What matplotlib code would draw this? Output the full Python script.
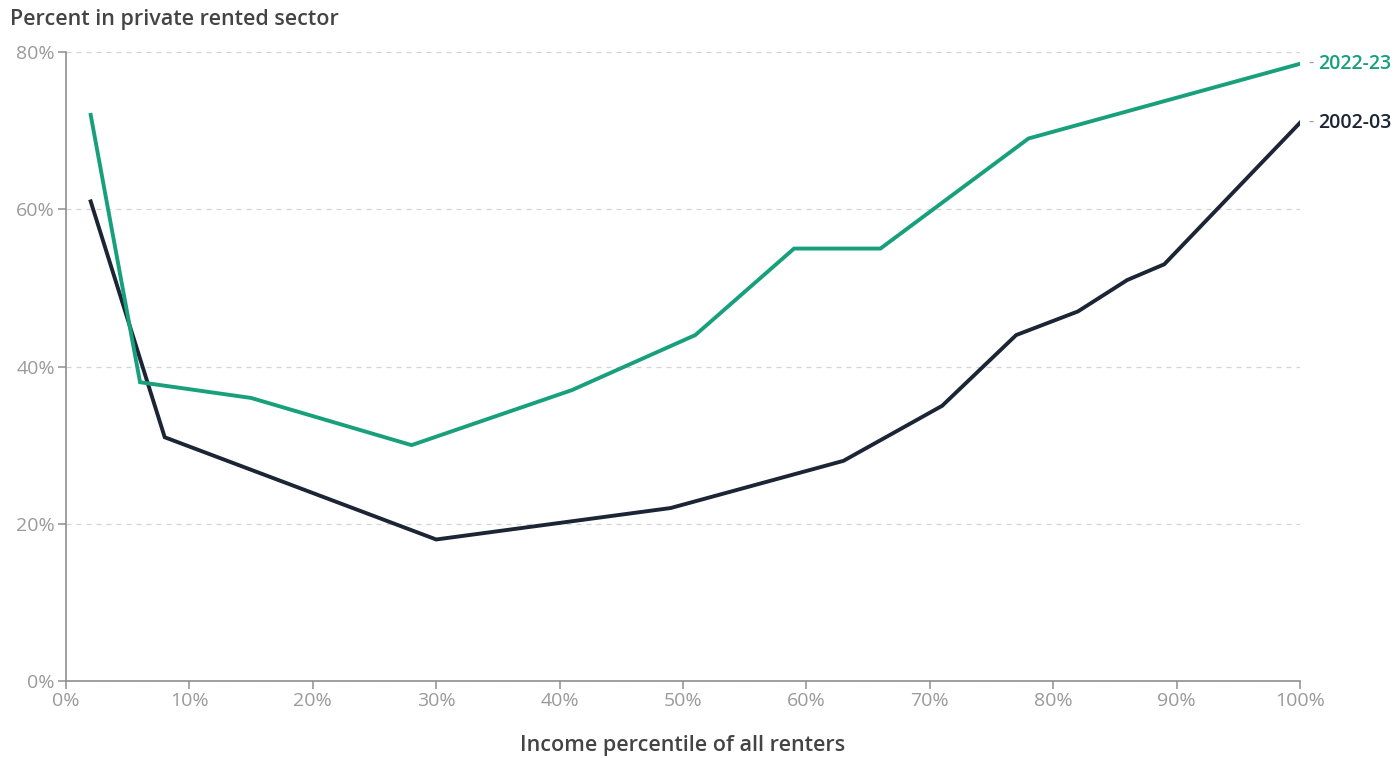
import matplotlib
matplotlib.use("Agg")
import matplotlib.pyplot as plt
from matplotlib.ticker import FuncFormatter, MultipleLocator

plt.rcParams['font.family'] = ['Open Sans', 'DejaVu Sans']

# Data
x_2022 = [2, 6, 15, 28, 41, 51, 59, 66, 78, 100]
y_2022 = [72, 38, 36, 30, 37, 44, 55, 55, 69, 78.5]
x_2002 = [2, 8, 30, 49, 63, 71, 77, 82, 86, 89, 100]
y_2002 = [61, 31, 18, 22, 28, 35, 44, 47, 51, 53, 71]
series_labels = ["2022-23", "2002-03"]

green = "#18a07d"
navy = "#1c2536"
grey_txt = "#9a9a9a"
dark_txt = "#444444"

fig = plt.figure(figsize=(13.97, 7.58), dpi=100)
ax = fig.add_axes([66/1397, 1 - 681/758, (1300-66)/1397, (681-52)/758])

ax.plot(x_2002, y_2002, color=navy, lw=2.8, solid_joinstyle='miter', zorder=3)
ax.plot(x_2022, y_2022, color=green, lw=2.8, solid_joinstyle='miter', zorder=4)

ax.set_xlim(0, 100)
ax.set_ylim(0, 80)
ax.xaxis.set_major_locator(MultipleLocator(10))
ax.yaxis.set_major_locator(MultipleLocator(20))
ax.xaxis.set_major_formatter(FuncFormatter(lambda v, p: f"{v:.0f}%"))
ax.yaxis.set_major_formatter(FuncFormatter(lambda v, p: f"{v:.0f}%"))

for s in ["top", "right"]:
    ax.spines[s].set_visible(False)
for s in ["left", "bottom"]:
    ax.spines[s].set_color("#8f8f8f")
    ax.spines[s].set_linewidth(1.2)

ax.tick_params(axis='both', colors="#8f8f8f", labelcolor=grey_txt, labelsize=14,
               length=6, width=1.1)
ax.tick_params(axis='x', pad=2)
ax.tick_params(axis='y', pad=2)

ax.grid(axis='y', color="#d4d4d4", linestyle=(0, (4, 4)), linewidth=0.9)
ax.set_axisbelow(True)

# Line-end labels
for xs, ys, lab, col in [(x_2022, y_2022, series_labels[0], green),
                         (x_2002, y_2002, series_labels[1], navy)]:
    ax.annotate("-", xy=(xs[-1], ys[-1]), xytext=(6, 0), textcoords='offset points',
                va='center', ha='left', color=grey_txt, fontsize=12, annotation_clip=False)
    ax.annotate(lab, xy=(xs[-1], ys[-1]), xytext=(13, 0), textcoords='offset points',
                va='center', ha='left', color=col, fontsize=14, fontweight='semibold',
                annotation_clip=False)

fig.text(10/1397, 1 - 20/758, "Percent in private rented sector", ha='left', va='center',
         color=dark_txt, fontsize=15.5, fontweight='semibold')
fig.text(683/1397, 1 - 746/758, "Income percentile of all renters", ha='center', va='center',
         color=dark_txt, fontsize=15.5, fontweight='semibold')

fig.savefig("out.png", dpi=100, facecolor="white")
